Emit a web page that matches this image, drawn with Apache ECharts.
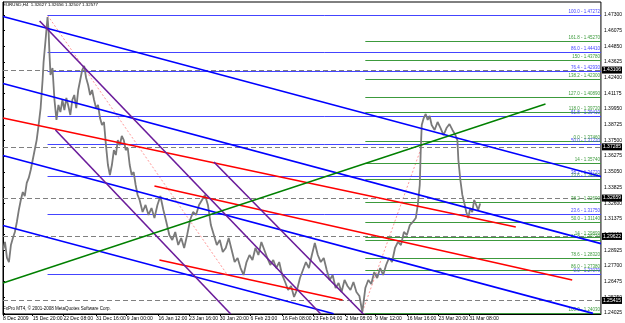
<!DOCTYPE html>
<html><head><meta charset="utf-8">
<script src="https://cdn.jsdelivr.net/npm/echarts@6/dist/echarts.min.js"></script>
<style>html,body{margin:0;padding:0;background:#fff}#c{width:625px;height:323px}</style>
</head><body><div id="c"></div>
<script>
// ---------- DATA ----------
const titleText = 'EURUSD,H4  1.32627 1.32656 1.32507 1.32577';
const footerText = 'FxPro MT4, \u00a9 2001-2008 MetaQuotes Software Corp.';

const xTickBars = [0, 30, 61, 94, 125, 157, 188, 219, 250, 282, 313, 346, 376, 408, 440, 471];
const xTickLabels = ['8 Dec 2009', '15 Dec 20:00', '22 Dec 08:00', '31 Dec 16:00', '9 Jan 00:00', '16 Jan 12:00',
  '23 Jan 16:00', '30 Jan 20:00', '6 Feb 23:00', '16 Feb 08:00', '23 Feb 04:00', '2 Mar 08:00', '9 Mar 12:00',
  '16 Mar 16:00', '23 Mar 20:00', '31 Mar 08:00'];
const yTickValues = [1.47300, 1.46075, 1.44850, 1.43625, 1.42400, 1.41175, 1.39950, 1.38725, 1.37500, 1.36275,
  1.35050, 1.33825, 1.32600, 1.31375, 1.30150, 1.28925, 1.27700, 1.26475, 1.25250, 1.24025];
const yMin = 1.23941, yMax = 1.48316, xMax = 604;

const priceBars = [0,2,4,6,8,10,12,14,16,18,20,22,24,26,28,30,32,34,36,38,40,41,43,45,46,47,48,50,52,54,56,58,60,62,64,66,68,70,72,74,76,78,80,82,84,86,88,90,92,94,96,98,100,102,104,106,108,110,112,114,116,118,120,122,124,126,128,130,132,134,136,138,141,144,147,150,153,156,159,162,165,168,171,174,177,180,183,186,189,192,195,198,201,204,207,210,213,216,219,222,225,228,231,234,237,240,243,246,249,252,255,258,261,264,267,270,273,276,279,282,285,288,291,294,297,300,303,306,309,312,315,318,321,324,327,330,333,336,339,342,345,348,351,354,357,360,363,366,369,372,375,378,381,384,387,390,393,396,399,402,405,408,411,414,417,419,421,422,423,425,427,429,431,433,436,439,442,445,448,451,454,457,459,460,462,464,466,468,470,472,474,476,478,480,482];
const priceValues = [1.2894,1.2957,1.2832,1.2800,1.2933,1.2988,1.3035,1.3113,1.3207,1.3285,1.3347,1.3316,1.3418,1.3457,1.3519,1.3597,1.3675,1.3753,1.3871,1.4003,1.4222,1.4363,1.4535,1.4714,1.4613,1.4418,1.4261,1.4316,1.4066,1.3910,1.4027,1.3972,1.4066,1.3988,1.4082,1.4019,1.3949,1.4066,1.4105,1.4003,1.4144,1.4222,1.4300,1.4332,1.4238,1.4183,1.4105,1.4144,1.4066,1.4003,1.4027,1.3925,1.3871,1.3894,1.3714,1.3558,1.3480,1.3558,1.3675,1.3636,1.3753,1.3714,1.3785,1.3753,1.3675,1.3691,1.3558,1.3480,1.3503,1.3402,1.3324,1.3285,1.3191,1.3246,1.3168,1.3222,1.3144,1.3246,1.3316,1.3207,1.3113,1.3011,1.2972,1.3035,1.2933,1.2988,1.2910,1.3011,1.3128,1.3191,1.3168,1.3246,1.3285,1.3324,1.3246,1.3089,1.3011,1.2933,1.2972,1.2878,1.2910,1.2988,1.2894,1.2800,1.2832,1.2753,1.2699,1.2800,1.2855,1.2816,1.2910,1.2855,1.2957,1.2894,1.2832,1.2777,1.2816,1.2753,1.2800,1.2699,1.2644,1.2582,1.2613,1.2527,1.2582,1.2675,1.2738,1.2800,1.2753,1.2855,1.2949,1.2855,1.2800,1.2832,1.2738,1.2660,1.2699,1.2597,1.2636,1.2566,1.2660,1.2613,1.2582,1.2644,1.2566,1.2535,1.2410,1.2597,1.2660,1.2628,1.2722,1.2675,1.2753,1.2699,1.2777,1.2832,1.2800,1.2910,1.2957,1.2933,1.3035,1.3011,1.3089,1.3113,1.3144,1.3246,1.3402,1.3675,1.3871,1.3925,1.3957,1.3910,1.3941,1.3871,1.3832,1.3894,1.3847,1.3792,1.3847,1.3878,1.3832,1.3792,1.3753,1.3597,1.3441,1.3324,1.3261,1.3191,1.3144,1.3222,1.3191,1.3285,1.3246,1.3207,1.3258];

// trend lines: [[bar, price], [bar, price]]
const blueChannel = [
  [[0, 1.4718], [604, 1.3468]],
  [[0, 1.4195], [604, 1.2944]],
  [[0, 1.3632], [596, 1.2399]],
  [[0, 1.3086], [334, 1.2396]]
];
const redChannel = [
  [[0, 1.3925], [518, 1.3074]],
  [[153, 1.3394], [575, 1.2660]],
  [[158, 1.2816], [343, 1.2503]]
];
const purpleLines = [
  [[37, 1.4683], [321, 1.2394]],
  [[213, 1.3582], [364, 1.2394]],
  [[53, 1.3832], [230, 1.2394]]
];
const greenTrend = [[[0, 1.2636], [548, 1.4035]]];
const fiboDiagonals = [
  [[45, 1.47272], [226, 1.27079]],
  [[363, 1.2410], [425, 1.3746]]
];

// Fibonacci levels: [label, price]
const fiboAStart = 45;
const fiboALevels = [['100.0', 1.47272], ['86.0', 1.4441], ['76.4', 1.4293], ['61.8', 1.3941], ['50.0', 1.3722],
  ['38.2', 1.3472], ['23.6', 1.3175], ['0.0', 1.27079]];
const fiboBStart = 366;
const fiboBLevels = [['', 1.4832], ['161.8', 1.4527], ['150', 1.4378], ['138.2', 1.4230], ['127.0', 1.4089],
  ['118.0', 1.3972], ['0.0', 1.3746], ['14', 1.3574], ['23.6', 1.3449], ['38.2', 1.3269], ['50.0', 1.3114],
  ['14', 1.29899], ['61.8', 1.2972], ['78.6', 1.2832], ['86.0', 1.2738], ['100.0', 1.2403]];

// horizontal dashed price lines
const hLines = [1.43106, 1.37285, 1.32659, 1.29622, 1.25415];

// ---------- CHART ----------
const chart = echarts.init(document.getElementById('c'));
const FONT = 'Liberation Sans';
const series = [];
series.push({
  type: 'line', data: priceBars.map((b, i) => [b, priceValues[i]]), symbol: 'none',
  lineStyle: { color: '#7a7a7a', width: 1.8 }, z: 5, silent: true
});
function addLines(list, color, width, type, z) {
  list.forEach(pts => series.push({
    type: 'line', data: pts, symbol: 'none', lineStyle: { color, width, type }, z, silent: true
  }));
}
addLines(blueChannel, '#0000ff', 1.6, 'solid', 6);
addLines(redChannel, '#ff0000', 1.6, 'solid', 6);
addLines(purpleLines, '#6a1b9a', 1.6, 'solid', 6);
addLines(greenTrend, '#008000', 1.4, 'solid', 6);
addLines(fiboDiagonals, '#ff9999', 1, [2, 2], 4);

function fiboMark(start, levels, color) {
  return levels.map(([name, p]) => [
    { coord: [start, p], lineStyle: { color, width: 1, type: 'solid' },
      label: { show: name !== '', position: 'insideEndTop', formatter: name + ' - ' + p.toFixed(5),
        color, fontSize: 4.5, fontFamily: FONT, distance: 1 } },
    { coord: [xMax, p] }
  ]);
}
series.push({
  type: 'line', data: [], silent: true, z: 3,
  markLine: { symbol: 'none', animation: false, silent: true,
    data: fiboMark(fiboAStart, fiboALevels, '#4444ff').concat(fiboMark(fiboBStart, fiboBLevels, '#3c9a3c')) }
});
series.push({
  type: 'line', data: [], silent: true, z: 2,
  markLine: { symbol: 'none', animation: false, silent: true,
    data: hLines.map(v => ({ yAxis: v, lineStyle: { color: '#808080', width: 1, type: [5, 3] },
      label: { show: true, position: 'end', formatter: v.toFixed(5), backgroundColor: '#000', color: '#fff',
        fontSize: 5, fontFamily: FONT, padding: [1, 1], distance: 1 } })) }
});

chart.setOption({
  animation: false,
  backgroundColor: '#fff',
  grid: { left: 2, right: 19, top: 2, bottom: 9, show: true, borderColor: '#000', borderWidth: 1 },
  xAxis: {
    type: 'value', min: 0, max: xMax, splitLine: { show: false },
    axisLine: { show: true, lineStyle: { color: '#000' } },
    axisTick: { show: true, customValues: xTickBars, length: 2, lineStyle: { color: '#000' } },
    axisLabel: { customValues: xTickBars, formatter: v => xTickLabels[xTickBars.indexOf(v)] || '',
      align: 'left', fontSize: 5, fontFamily: FONT, color: '#000', margin: 2 }
  },
  yAxis: {
    type: 'value', position: 'right', min: yMin, max: yMax, splitLine: { show: false },
    axisLine: { show: true, lineStyle: { color: '#000' } },
    axisTick: { show: true, customValues: yTickValues, length: 2, lineStyle: { color: '#000' } },
    axisLabel: { customValues: yTickValues, formatter: v => v.toFixed(5), fontSize: 5, fontFamily: FONT,
      color: '#000', margin: 3 }
  },
  graphic: [
    { type: 'text', left: 3, top: 3, style: { text: titleText, fontSize: 4.4, fontFamily: FONT, fill: '#000' } },
    { type: 'text', left: 3, top: 306, style: { text: footerText, fontSize: 4.5, fontFamily: FONT, fill: '#000' } }
  ],
  series
});
</script></body></html>
